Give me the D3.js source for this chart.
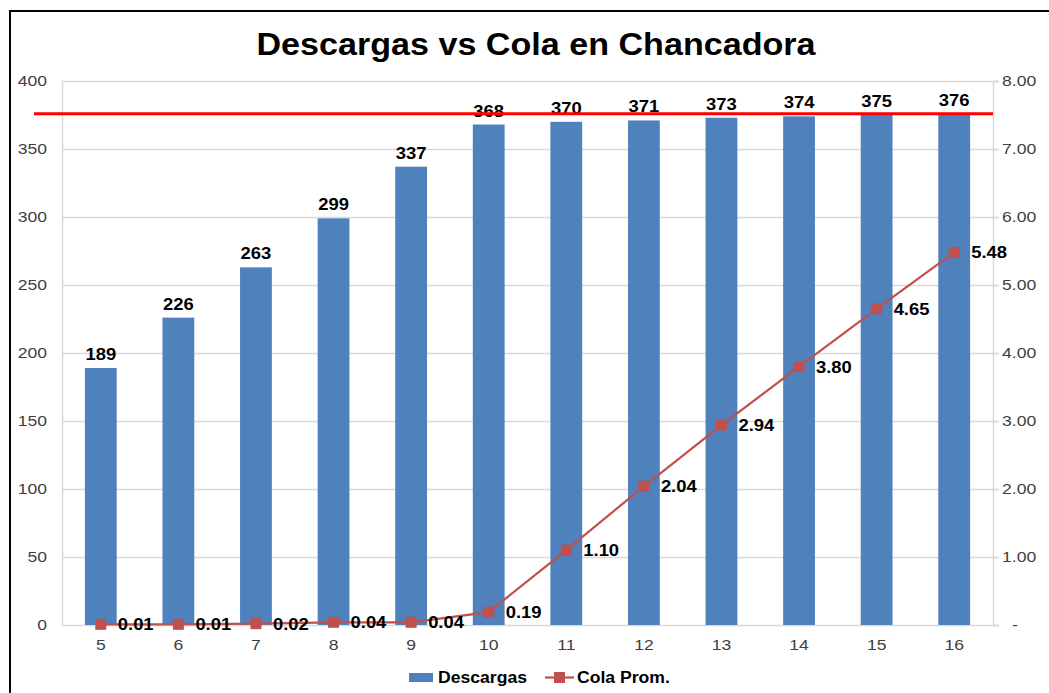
<!DOCTYPE html>
<html>
<head>
<meta charset="utf-8">
<script src="https://cdn.jsdelivr.net/npm/d3@7"></script>
<style>
  html, body { margin: 0; padding: 0; background: #fff; }
  svg { display: block; font-family: "Liberation Sans", Arial, sans-serif; }
</style>
</head>
<body>
<svg id="chart" width="1049" height="693"></svg>
<script>
// Hora de llegada (categorías del eje X)
const horas = ["5", "6", "7", "8", "9", "10", "11", "12", "13", "14", "15", "16"];
// Descargas acumuladas (barras, eje izquierdo)
const descargas = [189, 226, 263, 299, 337, 368, 370, 371, 373, 374, 375, 376];
// Cola promedio (línea, eje derecho)
const colaProm = [0.01, 0.01, 0.02, 0.04, 0.04, 0.19, 1.10, 2.04, 2.94, 3.80, 4.65, 5.48];
// Capacidad máxima de descargas (línea de referencia)
const capacidad = 376;
// Marcas de los ejes
const ticksIzq = [0, 50, 100, 150, 200, 250, 300, 350, 400];
const ticksDer = [0, 1, 2, 3, 4, 5, 6, 7, 8];

const svg = d3.select("#chart");
const plot = { left: 62, right: 993, top: 81, bottom: 625 };

const colorBarra = "#4F81BD";
const colorLinea = "#C0504D";
const colorGrid = "#D9D9D9";
const colorTexto = "#404040";
const FUENTE = "Liberation Sans, Arial, sans-serif";

// Ensancha horizontalmente los textos (tipografía algo más ancha)
function ensanchar(sel, factor) {
  sel.each(function () {
    const len = this.getComputedTextLength();
    if (len > 0) {
      d3.select(this).attr("textLength", len * factor).attr("lengthAdjust", "spacingAndGlyphs");
    }
  });
}

// Marco exterior
svg.append("rect")
  .attr("x", 10).attr("y", 11)
  .attr("width", 1200).attr("height", 800)
  .attr("fill", "none").attr("stroke", "#000").attr("stroke-width", 2);

// Título
svg.append("text")
  .attr("x", 536).attr("y", 55)
  .attr("text-anchor", "middle")
  .attr("font-size", 31).attr("font-weight", "bold")
  .attr("fill", "#000")
  .text("Descargas vs Cola en Chancadora")
  .call(ensanchar, 1.1);

const x = d3.scaleBand().domain(horas).range([plot.left, plot.right]).paddingInner(0.59).paddingOuter(0.295);
const yIzq = d3.scaleLinear().domain([0, 400]).range([plot.bottom, plot.top]);
const yDer = d3.scaleLinear().domain([0, 8]).range([plot.bottom, plot.top]);

// Líneas de cuadrícula
svg.append("g").selectAll("line").data(ticksIzq.filter(d => d > 0)).join("line")
  .attr("x1", plot.left).attr("x2", plot.right + 6)
  .attr("y1", d => yIzq(d) + 0.5).attr("y2", d => yIzq(d) + 0.5)
  .attr("stroke", colorGrid).attr("stroke-width", 1.5);

// Eje izquierdo
const ejeIzq = svg.append("g")
  .attr("transform", `translate(${plot.left},0)`)
  .call(d3.axisLeft(yIzq).tickValues(ticksIzq).tickSize(0).tickPadding(15));
ejeIzq.select(".domain").attr("stroke", colorGrid).attr("stroke-width", 1.5);
ejeIzq.selectAll("text").attr("font-size", 15).attr("fill", colorTexto)
  .attr("font-family", FUENTE).call(ensanchar, 1.17);

// Eje derecho
const ejeDer = svg.append("g")
  .attr("transform", `translate(${plot.right},0)`)
  .call(d3.axisRight(yDer).tickValues(ticksDer).tickSize(6).tickPadding(3)
    .tickFormat(d => d === 0 ? "-" : d3.format(".2f")(d)));
ejeDer.select(".domain").attr("stroke", colorGrid).attr("stroke-width", 1.5);
ejeDer.selectAll(".tick line").attr("stroke", colorGrid).attr("stroke-width", 1.5);
ejeDer.selectAll("text").attr("font-size", 15).attr("fill", colorTexto)
  .attr("font-family", FUENTE).call(ensanchar, 1.17);
ejeDer.selectAll(".tick").filter(d => d === 0).select("text").attr("dx", 10);

// Eje X
const ejeX = svg.append("g")
  .attr("transform", `translate(0,${plot.bottom})`)
  .call(d3.axisBottom(x).tickSize(0).tickPadding(14));
ejeX.select(".domain").attr("stroke", colorGrid).attr("stroke-width", 1.5)
  .attr("d", `M${plot.left},0.5H${plot.right + 6}`);
ejeX.selectAll("text").attr("font-size", 15).attr("fill", colorTexto)
  .attr("font-family", FUENTE).call(ensanchar, 1.17);

// Barras
svg.append("g").selectAll("rect").data(descargas).join("rect")
  .attr("x", (d, i) => x(horas[i]))
  .attr("y", d => yIzq(d))
  .attr("width", x.bandwidth())
  .attr("height", d => yIzq(0) - yIzq(d))
  .attr("fill", colorBarra);

// Etiquetas de barras
svg.append("g").selectAll("text").data(descargas).join("text")
  .attr("x", (d, i) => x(horas[i]) + x.bandwidth() / 2)
  .attr("y", d => yIzq(d) - 8)
  .attr("text-anchor", "middle")
  .attr("font-size", 16).attr("font-weight", "bold").attr("fill", "#000")
  .text(d => d)
  .call(ensanchar, 1.15);

// Línea de capacidad
svg.append("line")
  .attr("x1", 34).attr("x2", plot.right)
  .attr("y1", yIzq(capacidad)).attr("y2", yIzq(capacidad))
  .attr("stroke", "#FF0000").attr("stroke-width", 3);

// Línea de cola promedio
const cx = i => x(horas[i]) + x.bandwidth() / 2;
svg.append("path")
  .datum(colaProm)
  .attr("d", d3.line().x((d, i) => cx(i)).y(d => yDer(d)))
  .attr("fill", "none").attr("stroke", colorLinea).attr("stroke-width", 2.2);

svg.append("g").selectAll("rect").data(colaProm).join("rect")
  .attr("x", (d, i) => cx(i) - 5.5)
  .attr("y", d => yDer(d) - 5.5)
  .attr("width", 11).attr("height", 11)
  .attr("fill", colorLinea);

svg.append("g").selectAll("text").data(colaProm).join("text")
  .attr("x", (d, i) => cx(i) + 17)
  .attr("y", d => yDer(d) + 6)
  .attr("font-size", 16).attr("font-weight", "bold").attr("fill", "#000")
  .text(d => d3.format(".2f")(d))
  .call(ensanchar, 1.15);

// Leyenda
const leyenda = svg.append("g");
leyenda.append("rect")
  .attr("x", 409).attr("y", 673).attr("width", 24).attr("height", 9)
  .attr("fill", colorBarra);
leyenda.append("text")
  .attr("x", 438).attr("y", 683)
  .attr("font-size", 16).attr("font-weight", "bold").attr("fill", "#000")
  .text("Descargas")
  .call(ensanchar, 1.1);
leyenda.append("line")
  .attr("x1", 545).attr("x2", 574).attr("y1", 677.5).attr("y2", 677.5)
  .attr("stroke", colorLinea).attr("stroke-width", 2.2);
leyenda.append("rect")
  .attr("x", 554).attr("y", 672).attr("width", 11).attr("height", 11)
  .attr("fill", colorLinea);
leyenda.append("text")
  .attr("x", 577).attr("y", 683)
  .attr("font-size", 16).attr("font-weight", "bold").attr("fill", "#000")
  .text("Cola Prom.")
  .call(ensanchar, 1.1);
</script>
</body>
</html>
